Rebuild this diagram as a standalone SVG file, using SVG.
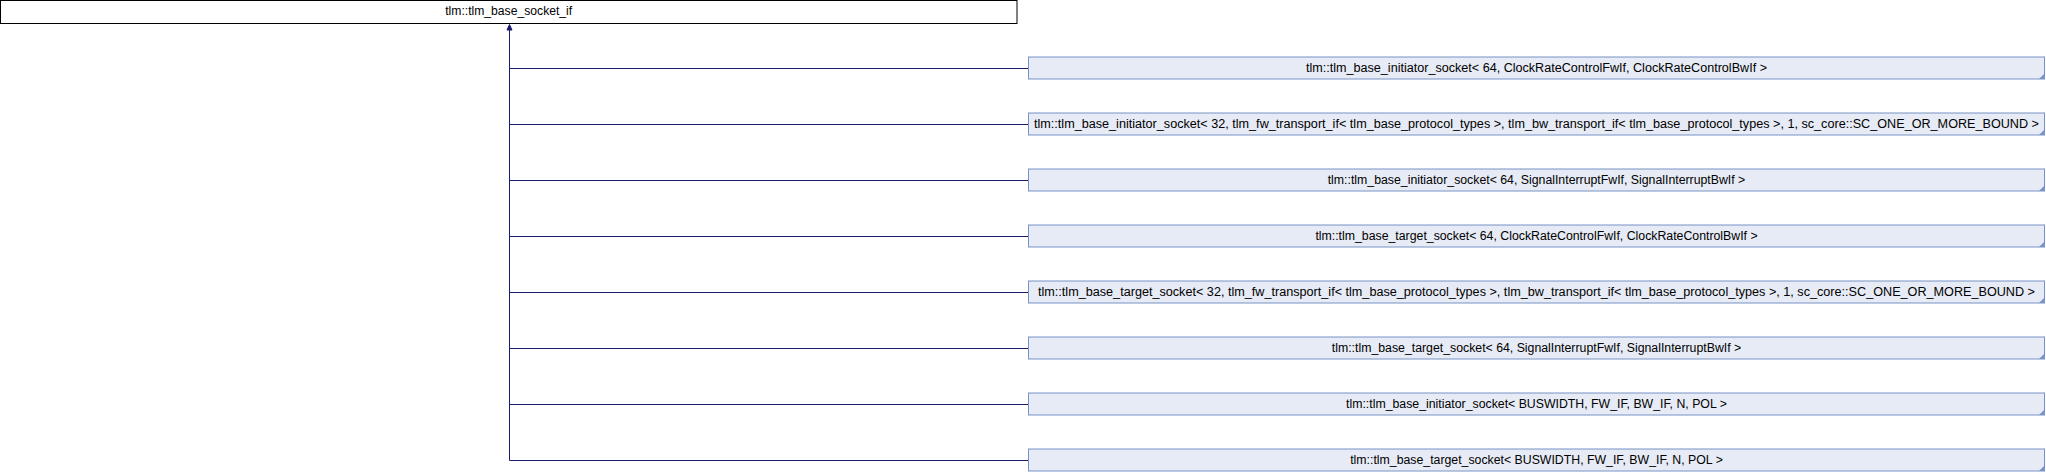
<svg xmlns="http://www.w3.org/2000/svg" width="2046" height="472" viewBox="0 0 2046 472">
<style>
.bg{fill:#ffffff}
.root rect{fill:#ffffff;stroke:#000000;stroke-width:1}
.node rect{fill:#E7EBF5;stroke:#7892C6;stroke-width:1}
.node polygon{fill:#7892C6}
text{font-family:"Liberation Sans",Arial,sans-serif;font-size:12.3px;fill:#000000;text-anchor:middle}
.conn{stroke:#191970;stroke-width:1;fill:none}
.arrow{fill:#191970;stroke:#191970;stroke-width:1}
</style>
<rect class="bg" x="0" y="0" width="2046" height="472"/>
<g id="connectors">
<path class="conn" d="M509.5,30 V460.5 M509.5,68.5 H1028 M509.5,124.5 H1028 M509.5,180.5 H1028 M509.5,236.5 H1028 M509.5,292.5 H1028 M509.5,348.5 H1028 M509.5,404.5 H1028 M509.5,460.5 H1028"/>
<polygon class="arrow" points="509.5,24.5 507,30 512,30"/>
</g>
<g id="tlm_base_socket_if" class="root">
<rect x="0.5" y="0.5" width="1016.5" height="23"/>
<text x="508.7" y="15" textLength="127" lengthAdjust="spacingAndGlyphs">tlm::tlm_base_socket_if</text>
</g>
<g id="n1" class="node">
<rect x="1028.5" y="57" width="1016" height="22"/>
<polygon points="2044.5,73.5 2044.5,79 2039,79"/>
<text x="1536.5" y="72" textLength="461" lengthAdjust="spacingAndGlyphs">tlm::tlm_base_initiator_socket&lt; 64, ClockRateControlFwIf, ClockRateControlBwIf &gt;</text>
</g>
<g id="n2" class="node">
<rect x="1028.5" y="113" width="1016" height="22"/>
<polygon points="2044.5,129.5 2044.5,135 2039,135"/>
<text x="1536.5" y="128" textLength="1005" lengthAdjust="spacingAndGlyphs">tlm::tlm_base_initiator_socket&lt; 32, tlm_fw_transport_if&lt; tlm_base_protocol_types &gt;, tlm_bw_transport_if&lt; tlm_base_protocol_types &gt;, 1, sc_core::SC_ONE_OR_MORE_BOUND &gt;</text>
</g>
<g id="n3" class="node">
<rect x="1028.5" y="169" width="1016" height="22"/>
<polygon points="2044.5,185.5 2044.5,191 2039,191"/>
<text x="1536.5" y="184">tlm::tlm_base_initiator_socket&lt; 64, SignalInterruptFwIf, SignalInterruptBwIf &gt;</text>
</g>
<g id="n4" class="node">
<rect x="1028.5" y="225" width="1016" height="22"/>
<polygon points="2044.5,241.5 2044.5,247 2039,247"/>
<text x="1536.5" y="240">tlm::tlm_base_target_socket&lt; 64, ClockRateControlFwIf, ClockRateControlBwIf &gt;</text>
</g>
<g id="n5" class="node">
<rect x="1028.5" y="281" width="1016" height="22"/>
<polygon points="2044.5,297.5 2044.5,303 2039,303"/>
<text x="1536.5" y="296" textLength="997" lengthAdjust="spacingAndGlyphs">tlm::tlm_base_target_socket&lt; 32, tlm_fw_transport_if&lt; tlm_base_protocol_types &gt;, tlm_bw_transport_if&lt; tlm_base_protocol_types &gt;, 1, sc_core::SC_ONE_OR_MORE_BOUND &gt;</text>
</g>
<g id="n6" class="node">
<rect x="1028.5" y="337" width="1016" height="22"/>
<polygon points="2044.5,353.5 2044.5,359 2039,359"/>
<text x="1536.5" y="352">tlm::tlm_base_target_socket&lt; 64, SignalInterruptFwIf, SignalInterruptBwIf &gt;</text>
</g>
<g id="n7" class="node">
<rect x="1028.5" y="393" width="1016" height="22"/>
<polygon points="2044.5,409.5 2044.5,415 2039,415"/>
<text x="1536.5" y="408">tlm::tlm_base_initiator_socket&lt; BUSWIDTH, FW_IF, BW_IF, N, POL &gt;</text>
</g>
<g id="n8" class="node">
<rect x="1028.5" y="449" width="1016" height="22"/>
<polygon points="2044.5,465.5 2044.5,471 2039,471"/>
<text x="1536.5" y="464">tlm::tlm_base_target_socket&lt; BUSWIDTH, FW_IF, BW_IF, N, POL &gt;</text>
</g>
</svg>
